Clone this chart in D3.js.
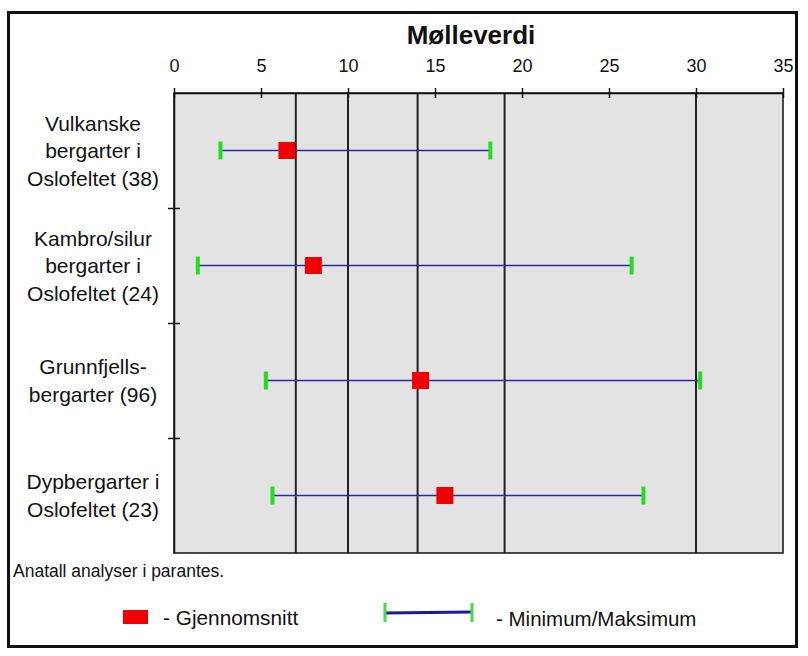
<!DOCTYPE html>
<html>
<head>
<meta charset="utf-8">
<script src="https://cdn.jsdelivr.net/npm/d3@7"></script>
<style>
  body { margin: 0; background: #fff; }
  text { font-family: "Liberation Sans", Arial, sans-serif; fill: #111; }
</style>
</head>
<body>
<script>
var outerWidth = 808;
var outerHeight = 656;

// data
var categories = [
  ['Vulkanske', 'bergarter i', 'Oslofeltet (38)'],
  ['Kambro/silur', 'bergarter i', 'Oslofeltet (24)'],
  ['Grunnfjells-', 'bergarter (96)'],
  ['Dypbergarter i', 'Oslofeltet (23)']
];
var minVals = [2.67, 1.37, 5.28, 5.66];
var meanVals = [6.49, 8.01, 14.17, 15.57];
var maxVals = [18.18, 26.3, 30.24, 26.98];
var refLines = [7, 10, 14, 19, 30];
var xTicks = [0, 5, 10, 15, 20, 25, 30, 35];

var plot = {left: 174, right: 783, top: 93, bottom: 553};

var svg = d3.select('body').append('svg')
  .attr('width', outerWidth)
  .attr('height', outerHeight);

// outer frame
svg.append('rect')
  .attr('x', 8.5).attr('y', 12.5)
  .attr('width', 788).attr('height', 634)
  .attr('fill', 'none')
  .attr('stroke', '#111')
  .attr('stroke-width', 3);

var x = d3.scaleLinear()
  .domain([0, 35])
  .range([plot.left, plot.right]);

var y = d3.scaleBand()
  .domain(d3.range(categories.length))
  .range([plot.top, plot.bottom]);

var yIdx = d3.scaleLinear()
  .domain([0, categories.length])
  .range([plot.top, plot.bottom]);

svg.append('rect')
  .attr('x', plot.left).attr('y', plot.top)
  .attr('width', plot.right - plot.left)
  .attr('height', plot.bottom - plot.top)
  .attr('fill', '#e3e3e3')
  .attr('stroke', '#111')
  .attr('stroke-width', 1.5);

// reference lines
svg.selectAll('.ref')
  .data(refLines)
  .enter()
  .append('line')
  .attr('class', 'ref')
  .attr('x1', function(d){ return x(d); })
  .attr('x2', function(d){ return x(d); })
  .attr('y1', plot.top)
  .attr('y2', plot.bottom)
  .attr('stroke', '#222')
  .attr('stroke-width', 2);

// top axis
var xAxis = svg.append('g')
  .attr('transform', 'translate(0,' + plot.top + ')')
  .call(d3.axisTop(x).tickValues(xTicks).tickSizeInner(5).tickSizeOuter(0).tickPadding(16));
xAxis.select('.domain').attr('stroke', '#111').attr('stroke-width', 1.5);
xAxis.selectAll('.tick line').attr('y1', 5).attr('stroke', '#111').attr('stroke-width', 1.5);
xAxis.selectAll('.tick text')
  .attr('font-size', 18)
  .attr('font-family', '"Liberation Sans", Arial, sans-serif')
  .attr('fill', '#111');

// left axis, ticks between categories
var yAxis = svg.append('g')
  .attr('transform', 'translate(' + plot.left + ',0)')
  .call(d3.axisLeft(yIdx).tickValues([1, 2, 3]).tickFormat('').tickSizeInner(6).tickSizeOuter(0));
yAxis.select('.domain').attr('stroke', '#111').attr('stroke-width', 1.5);
yAxis.selectAll('.tick line').attr('x1', 6).attr('stroke', '#111').attr('stroke-width', 1.5);

// category labels
var lineH = 27.5;
svg.selectAll('.cat')
  .data(categories)
  .enter()
  .append('text')
  .attr('class', 'cat')
  .attr('text-anchor', 'middle')
  .attr('font-size', 21)
  .each(function(d, i){
    var cy = y(i) + y.bandwidth() / 2;
    var first = cy - (d.length - 1) * lineH / 2 + 7.5;
    d3.select(this).selectAll('tspan')
      .data(d)
      .enter()
      .append('tspan')
      .attr('x', 93)
      .attr('y', function(t, j){ return first + j * lineH; })
      .text(function(t){ return t; });
  });

// min/max ranges
var rows = d3.range(categories.length);
var capH = 18;

svg.selectAll('.range')
  .data(rows)
  .enter()
  .append('line')
  .attr('class', 'range')
  .attr('x1', function(i){ return x(minVals[i]); })
  .attr('x2', function(i){ return x(maxVals[i]); })
  .attr('y1', function(i){ return y(i) + y.bandwidth() / 2; })
  .attr('y2', function(i){ return y(i) + y.bandwidth() / 2; })
  .attr('stroke', '#2a2aa8')
  .attr('stroke-width', 1.6);

svg.selectAll('.capmin')
  .data(rows)
  .enter()
  .append('rect')
  .attr('x', function(i){ return x(minVals[i]) - 2; })
  .attr('y', function(i){ return y(i) + y.bandwidth() / 2 - capH / 2; })
  .attr('width', 4)
  .attr('height', capH)
  .attr('fill', '#22dd22');

svg.selectAll('.capmax')
  .data(rows)
  .enter()
  .append('rect')
  .attr('x', function(i){ return x(maxVals[i]) - 2; })
  .attr('y', function(i){ return y(i) + y.bandwidth() / 2 - capH / 2; })
  .attr('width', 4)
  .attr('height', capH)
  .attr('fill', '#22dd22');

// means
var sq = 17;
svg.selectAll('.mean')
  .data(rows)
  .enter()
  .append('rect')
  .attr('class', 'mean')
  .attr('x', function(i){ return x(meanVals[i]) - sq / 2; })
  .attr('y', function(i){ return y(i) + y.bandwidth() / 2 - sq / 2; })
  .attr('width', sq)
  .attr('height', sq)
  .attr('fill', '#f00000');

// title
svg.append('text')
  .attr('x', 471)
  .attr('y', 44)
  .attr('text-anchor', 'middle')
  .attr('font-size', 26)
  .attr('font-weight', 'bold')
  .text('Mølleverdi');

// note
svg.append('text')
  .attr('x', 13)
  .attr('y', 577)
  .attr('font-size', 17.5)
  .text('Anatall analyser i parantes.');

// legend
svg.append('rect')
  .attr('x', 123).attr('y', 610)
  .attr('width', 25).attr('height', 14)
  .attr('fill', '#f00000');
svg.append('text')
  .attr('x', 163).attr('y', 625)
  .attr('font-size', 20.8)
  .text('- Gjennomsnitt');

svg.append('line')
  .attr('x1', 385).attr('x2', 472)
  .attr('y1', 613).attr('y2', 612)
  .attr('stroke', '#1a1a9a')
  .attr('stroke-width', 3);
svg.selectAll('.legcap')
  .data([385, 472])
  .enter()
  .append('rect')
  .attr('x', function(d){ return d - 1.5; })
  .attr('y', 603)
  .attr('width', 3)
  .attr('height', 19)
  .attr('fill', '#44dd44');
svg.append('text')
  .attr('x', 496).attr('y', 626)
  .attr('font-size', 20.5)
  .text('- Minimum/Maksimum');
</script>
</body>
</html>
